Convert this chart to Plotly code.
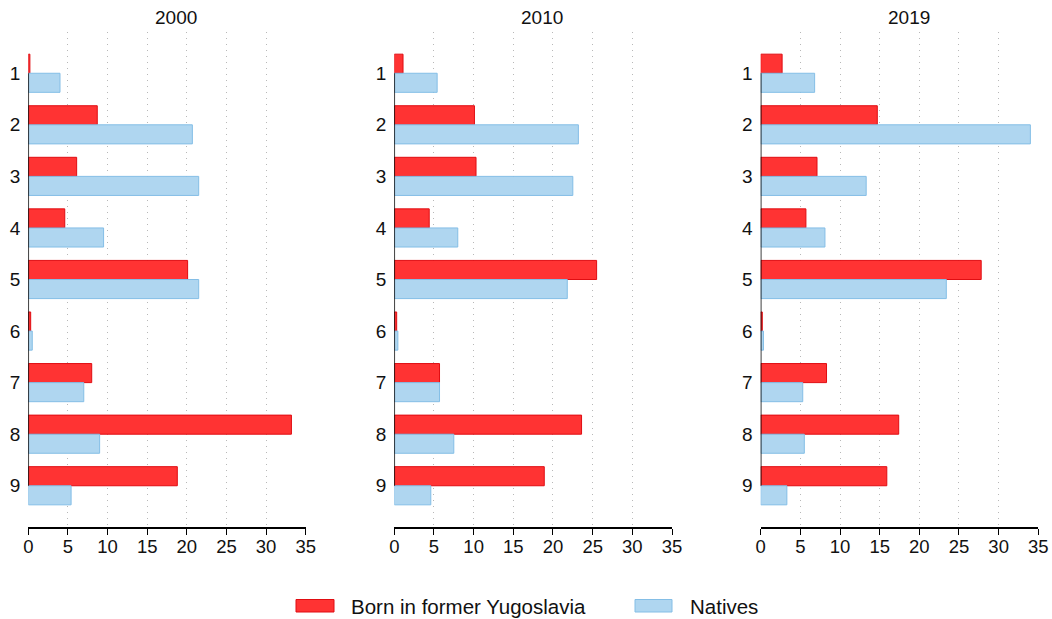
import plotly.graph_objects as go
from plotly.subplots import make_subplots

categories = ["1", "2", "3", "4", "5", "6", "7", "8", "9"]
years = ["2000", "2010", "2019"]
series_names = ["Born in former Yugoslavia", "Natives"]

yugo_2000 = [0.2, 8.7, 6.1, 4.6, 20.1, 0.3, 8.0, 33.2, 18.8]
natives_2000 = [4.0, 20.7, 21.5, 9.5, 21.5, 0.5, 7.0, 9.0, 5.4]
yugo_2010 = [1.1, 10.1, 10.3, 4.4, 25.5, 0.3, 5.7, 23.6, 18.9]
natives_2010 = [5.4, 23.2, 22.5, 8.0, 21.8, 0.45, 5.7, 7.5, 4.6]
yugo_2019 = [2.7, 14.7, 7.1, 5.7, 27.8, 0.2, 8.3, 17.4, 15.9]
natives_2019 = [6.8, 34.0, 13.3, 8.1, 23.4, 0.35, 5.3, 5.5, 3.3]

x_ticks = [0, 5, 10, 15, 20, 25, 30, 35]

red_fill, red_line = "#FF3333", "#E00D12"
blue_fill, blue_line = "#AFD6F0", "#84BEE6"
FONT = "Liberation Sans, Arial, sans-serif"

W, H = 1052, 619
panels = [(yugo_2000, natives_2000), (yugo_2010, natives_2010), (yugo_2019, natives_2019)]
x_px = [(28.3, 305.7), (394.3, 672.0), (760.7, 1038.3)]
y_top, y_bot = 32.0, 527.0

fig = make_subplots(rows=1, cols=3)

for i, (yv, nv) in enumerate(panels):
    col = i + 1
    fig.add_trace(go.Bar(y=categories, x=yv, orientation="h", name=series_names[0],
                         marker=dict(color=red_fill, line=dict(color=red_line, width=1)),
                         showlegend=False), row=1, col=col)
    fig.add_trace(go.Bar(y=categories, x=nv, orientation="h", name=series_names[1],
                         marker=dict(color=blue_fill, line=dict(color=blue_line, width=1)),
                         showlegend=False), row=1, col=col)

for i in range(3):
    sfx = "" if i == 0 else str(i + 1)
    x0, x1 = x_px[i]
    fig.layout["xaxis" + sfx].update(
        domain=[x0 / W, x1 / W], range=[0, 35], tickvals=x_ticks,
        showgrid=True, gridcolor="#b8b8b8", gridwidth=1, griddash="1px,5px",
        showline=True, linecolor="black", linewidth=1.5,
        ticks="outside", ticklen=6, tickcolor="black", tickwidth=1.2,
        ticklabelstandoff=-4,
        zeroline=False, automargin=False,
        tickfont=dict(size=18.5, color="#111111", family=FONT))
    fig.layout["yaxis" + sfx].update(
        domain=[1 - y_bot / H, 1 - y_top / H],
        type="category", categoryorder="array", categoryarray=categories,
        range=[len(categories) - 1 + 0.8, -0.8],
        showgrid=False, showline=False, ticks="", zeroline=False,
        ticklabelstandoff=7, automargin=False,
        tickfont=dict(size=19, color="#111111", family=FONT))
    # vertical axis line from first to last category
    fig.add_shape(type="line", xref="x" + sfx, yref="y" + sfx,
                  x0=0, x1=0, y0=0, y1=len(categories) - 1,
                  line=dict(color="black", width=1.5))
    # panel title
    fig.add_annotation(text=years[i], xref="paper", yref="paper",
                       x=((x0 + x1) / 2 + 9) / W, y=1 - 17.5 / H,
                       xanchor="center", yanchor="middle", showarrow=False,
                       font=dict(size=19, color="#111111", family=FONT))

# legend (drawn manually to match wide swatches)
legend_items = [
    (series_names[0], red_fill, red_line, 296, 334, 349),
    (series_names[1], blue_fill, blue_line, 635, 672, 688),
]
for name, fc, lc, sx0, sx1, tx in legend_items:
    fig.add_shape(type="rect", xref="paper", yref="paper",
                  x0=sx0 / W, x1=sx1 / W, y0=1 - 612 / H, y1=1 - 599.5 / H,
                  fillcolor=fc, line=dict(color=lc, width=1))
    fig.add_annotation(text=name, xref="paper", yref="paper",
                       x=tx / W, y=1 - 606 / H, xanchor="left", yanchor="middle",
                       showarrow=False, font=dict(size=20.5, color="#111111", family=FONT))

fig.update_layout(
    width=W, height=H, barmode="group", bargap=0.26, bargroupgap=0,
    margin=dict(l=0, r=0, t=0, b=0),
    plot_bgcolor="white", paper_bgcolor="white",
    showlegend=False,
    font=dict(family=FONT, color="#111111"),
)

fig.write_html("out.html", config={"displayModeBar": False})
